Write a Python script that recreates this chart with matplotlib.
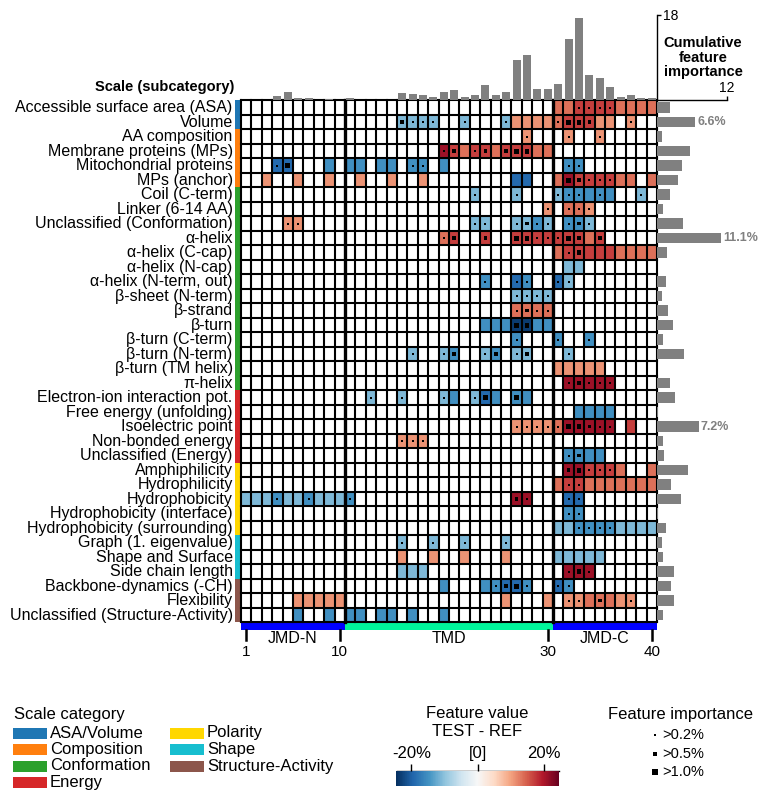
import numpy as np
import matplotlib
matplotlib.use('Agg')
import matplotlib.pyplot as plt
from matplotlib.patches import Rectangle
from matplotlib.colors import Normalize
from matplotlib.cm import ScalarMappable

plt.rcParams['font.family'] = ['Liberation Sans', 'DejaVu Sans']

W, H = 771, 802

# ---------------- data ----------------
scales = [
    "Accessible surface area (ASA)", "Volume", "AA composition", "Membrane proteins (MPs)",
    "Mitochondrial proteins", "MPs (anchor)", "Coil (C-term)", "Linker (6-14 AA)",
    "Unclassified (Conformation)", "α-helix", "α-helix (C-cap)", "α-helix (N-cap)",
    "α-helix (N-term, out)", "β-sheet (N-term)", "β-strand", "β-turn", "β-turn (C-term)",
    "β-turn (N-term)", "β-turn (TM helix)", "π-helix", "Electron-ion interaction pot.",
    "Free energy (unfolding)", "Isoelectric point", "Non-bonded energy", "Unclassified (Energy)",
    "Amphiphilicity", "Hydrophilicity", "Hydrophobicity", "Hydrophobicity (interface)",
    "Hydrophobicity (surrounding)", "Graph (1. eigenvalue)", "Shape and Surface",
    "Side chain length", "Backbone-dynamics (-CH)", "Flexibility", "Unclassified (Structure-Activity)",
]

category_names = ["ASA/Volume", "Composition", "Conformation", "Energy",
                  "Polarity", "Shape", "Structure-Activity"]
category_colors = ["#1f77b4", "#ff7f0e", "#2ca02c", "#d62728", "#ffd700", "#17becf", "#8c564b"]
category_counts = [2, 4, 14, 5, 5, 3, 3]

# feature value level per cell ('.' = none; 1-4 blue light->dark; a-d red light->dark)
level_values = {'1': -11, '2': -15, '3': -19, '4': -23.5,
                'a': 11, 'b': 13.5, 'c': 17, 'd': 21}
value_rows = [
    ".......... .......... .......... bbccccbbbb",
    ".......... .....1111. .1...1aaaa bcccaa.a..",
    ".......... .......... .......a.. .a..a.....",
    ".......... .........d cbccbcccbb ..........",
    "...33...2. 22.22.22.2 .......... .22.......",
    "..a..a..a. .a..a..a.. ......33.. bdccccbb.b",
    ".......... .......... ..1...1... 122222..1.",
    ".......... .......... .........a .bba......",
    "....aa.... .......... ..11..1121 .221......",
    ".......... .........b c..c..cccc cccbc.....",
    ".......... .......... .......... bcccccbbbb",
    ".......... .......... .......... .11.......",
    ".......... .......... ...2..32.. 31........",
    ".......... .......... ......1111 ..........",
    ".......... .......... ......bbbb ..........",
    ".......... .......... ...2224422 ..........",
    ".......... .......... ......2... 2..2......",
    ".......... ......1..1 2..12.11.. .1........",
    ".......... .......... .......... aaaaa.....",
    ".......... .......... .......... .ddddd....",
    ".......... ..1..1...1 2.132.22.. ..........",
    ".......... .......... .......... ..2222....",
    ".......... .......... ......aaaa bddddd.c..",
    ".......... .....aaa.. .......... ..........",
    ".......... .......... .......... .2222.....",
    ".......... .......... .......... .ddcccb..b",
    ".......... .......... .......... bccbbbbbbb",
    "1112112111 2......... ......dd.. .33.......",
    ".......... .......... .......... .22.......",
    ".......... .......... .......... 1122221111",
    ".......... .....1..1. .1...1.... ..........",
    ".......... .....a..a. .a...a.... 11111.....",
    ".......... .....111.. .......... .ddd......",
    ".......... .........2 ...22332.. 32........",
    ".....aaaaa .......... .....a...a .aabbbaa..",
    ".....2..2. 22.22.2..2 .......... ..........",
]

# feature importance per cell ('.' none, s >0.2%, m >0.5%, l >1.0%)
importance_sizes = {'s': 2.2, 'm': 6.0, 'l': 12.5}
importance_rows = [
    ".......... .......... .......... ..ssss....",
    ".......... .....msss. .s...s.... sllm...s..",
    ".......... .......... .......s.. .s..s.....",
    ".......... .........s m.sm.mll.. ..........",
    "...sl..... ......ss.. .......... .ss.......",
    ".......... .......... .......... .lmsss....",
    ".......... .......... ..s...s... sss.s...s.",
    ".......... .......... .........s .sss......",
    "....ss.... .......... ..ss..smss .sms......",
    ".......... .........s m..m..llss slm.m.....",
    ".......... .......... .......... .sl.......",
    ".......... .......... .......... ..........",
    ".......... .......... ...s..ss.. ss........",
    ".......... .......... ......ssss ..........",
    ".......... .......... ......smss ..........",
    ".......... .......... ......ll.. ..........",
    ".......... .......... ......s... s..s......",
    ".......... ......s..s m..sm.sm.. .s........",
    ".......... .......... .......... ..........",
    ".......... .......... .......... .smsss....",
    ".......... ..s..s...s ..sl..l... ..........",
    ".......... .......... .......... ..........",
    ".......... .......... ......ssss sllmss....",
    ".......... .....sss.. .......... ..........",
    ".......... .......... .......... .sm.......",
    ".......... .......... .......... .mlsss....",
    ".......... .......... .......... .ss.......",
    "...s..s... s......... ......ms.. .ss.......",
    ".......... .......... .......... .ss.......",
    ".......... .......... .......... ..ssss....",
    ".......... .....s..s. .s...s.... ..........",
    ".......... .......... .......... ..........",
    ".......... .......... .......... .sls......",
    ".......... .......... ....smls.. ss........",
    ".......... .......... .......... .ss.m..s..",
    ".......... .......... .......... ..........",
]

position_importance = [0, 0, 0, 0.85, 1.7, 0.5, 0.5, 0, 0.3, 0,
                       0.4, 0, 0, 0, 0, 1.5, 1.35, 1.1, 0.6, 1.77,
                       2.1, 0.7, 1.05, 3.2, 1.05, 1.77, 8.5, 9.5, 2.3, 2.3,
                       3.4, 12.9, 17.4, 5.3, 4.7, 2.8, 0.6, 1.05, 0.5, 0.5]

scale_importance = [2.2, 6.6, 0.8, 5.7, 4.3, 3.6, 2.2, 1.0, 4.5, 11.1,
                    1.7, 0, 1.5, 0.8, 1.85, 2.7, 1.0, 4.6, 0, 2.2,
                    3.1, 0.25, 7.2, 1.0, 1.15, 5.3, 2.4, 4.1, 0.2, 1.5,
                    0.8, 1.0, 2.9, 2.4, 2.9, 1.0]

regions = [("JMD-N", 0, 10, "#0000ff"), ("TMD", 10, 30, "#00f59b"), ("JMD-C", 30, 40, "#0000ff")]
position_ticks = [1, 10, 30, 40]

# ---------------- build matrices ----------------
n_rows, n_cols = len(scales), 40
vals = np.full((n_rows, n_cols), np.nan)
dots_x, dots_y, dots_s = [], [], []
for i, (vr, ir) in enumerate(zip(value_rows, importance_rows)):
    vr = vr.replace(" ", "")
    ir = ir.replace(" ", "")
    for j in range(n_cols):
        if vr[j] in level_values:
            vals[i, j] = level_values[vr[j]]
        if ir[j] in importance_sizes:
            dots_x.append(j + 0.5)
            dots_y.append(i + 0.5)
            dots_s.append(importance_sizes[ir[j]])

row_colors = []
for c, n in zip(category_colors, category_counts):
    row_colors += [c] * n


def fbox(l, t, r, b):
    return [l / W, 1 - b / H, (r - l) / W, (b - t) / H]


fig = plt.figure(figsize=(W / 100, H / 100), dpi=100)

ov = fig.add_axes([0, 0, 1, 1])
ov.set_xlim(0, W)
ov.set_ylim(H, 0)
ov.axis('off')

cmap = plt.get_cmap('RdBu_r')
norm = Normalize(-24.5, 24.5)

# ---------------- heatmap ----------------
HT, HB, HL, HR = 100.3, 622.3, 241, 657
ax = fig.add_axes(fbox(HL, HT, HR, HB))
ax.pcolormesh(np.arange(n_cols + 1), np.arange(n_rows + 1), np.ma.masked_invalid(vals),
              cmap=cmap, norm=norm)
ax.set_xlim(0, n_cols)
ax.set_ylim(n_rows, 0)
ax.axis('off')
for x in range(n_cols + 1):
    ax.axvline(x, color='k', lw=2.4 if x in (10, 30) else 1.5, clip_on=False, zorder=3)
for y in range(n_rows + 1):
    ax.axhline(y, color='k', lw=1.5, clip_on=False, zorder=3)
ax.scatter(dots_x, dots_y, s=dots_s, marker='s', c='k', linewidths=0, zorder=4)

# category strip + labels
for i, (lab, col) in enumerate(zip(scales, row_colors)):
    ax.add_patch(Rectangle((-0.6, i), 0.5, 1, facecolor=col, edgecolor='none', clip_on=False))
    ax.text(-0.8, i + 0.5, lab, ha='right', va='center', fontsize=11.5, clip_on=False)

# region bar
for name, a, b, col in regions:
    ax.add_patch(Rectangle((a, n_rows + 0.02), b - a, 0.52, facecolor=col, edgecolor='none',
                           clip_on=False, zorder=2))
    ax.text((a + b) / 2, n_rows + 1.1, name, ha='center', va='center', fontsize=11.5)
for p in position_ticks:
    ax.plot([p - 0.5, p - 0.5], [n_rows + 0.55, n_rows + 1.2], color='k', lw=1.8,
            clip_on=False)
    ax.text(p - 0.5, n_rows + 2.05, str(p), ha='center', va='center', fontsize=11)

# ---------------- top bars ----------------
axt = fig.add_axes(fbox(HL, 15, HR, HT))
axt.bar(np.arange(n_cols) + 0.5, position_importance, width=0.78, color='#808080')
axt.set_xlim(0, n_cols)
axt.set_ylim(0, 18)
for s in ['top', 'left', 'bottom']:
    axt.spines[s].set_visible(False)
axt.spines['right'].set_linewidth(1.0)
axt.set_xticks([])
axt.yaxis.tick_right()
axt.set_yticks([18])
axt.tick_params(axis='y', length=3, width=1, labelsize=10, pad=1)
axt.patch.set_alpha(0)

# ---------------- right bars ----------------
axr = fig.add_axes(fbox(HR, HT, 726.5, HB))
axr.barh(np.arange(n_rows) + 0.5, scale_importance, height=0.75, color='#808080')
axr.set_ylim(n_rows, 0)
axr.set_xlim(0, 12)
for s in ['bottom', 'left', 'right']:
    axr.spines[s].set_visible(False)
axr.spines['top'].set_linewidth(1.0)
axr.set_yticks([])
axr.xaxis.tick_top()
axr.set_xticks([12])
axr.tick_params(axis='x', length=3, width=1, labelsize=10, pad=1)
axr.patch.set_alpha(0)
for i, v in enumerate(scale_importance):
    if v >= 6:
        axr.text(v + 0.35, i + 0.5, f"{v:.1f}%", color='#808080', fontweight='bold',
                 fontsize=9, va='center', ha='left', clip_on=False)

# titles
ov.text(234, 87, "Scale (subcategory)", ha='right', va='center', fontweight='bold', fontsize=10.5)
for k, t in enumerate(["Cumulative", "feature", "importance"]):
    ov.text(703, 43 + 14.5 * k, t, ha='center', va='center', fontweight='bold', fontsize=10.5)

# ---------------- legends ----------------
ov.text(14, 715, "Scale category", ha='left', va='center', fontsize=12)
leg_y = [733, 749.5, 766, 782]
for k, (name, col) in enumerate(zip(category_names, category_colors)):
    if k < 4:
        x0, y0 = 13, leg_y[k]
    else:
        x0, y0 = 170, leg_y[k - 4]
    ov.add_patch(Rectangle((x0, y0 - 5.5), 34, 11, facecolor=col, edgecolor='none'))
    ov.text(x0 + 37, y0, name, ha='left', va='center', fontsize=12)

ov.text(477.5, 713, "Feature value", ha='center', va='center', fontsize=12)
ov.text(477.5, 731.5, "TEST - REF", ha='center', va='center', fontsize=12)
cax = fig.add_axes(fbox(396.5, 771, 559, 786))
cb = fig.colorbar(ScalarMappable(norm=norm, cmap=cmap), cax=cax, orientation='horizontal')
cb.set_ticks([-20, 0, 20])
cb.set_ticklabels(['-20%', '[0]', '20%'])
cax.xaxis.set_ticks_position('top')
cax.tick_params(length=5, width=1, labelsize=12, pad=2)
cb.outline.set_visible(False)
ov.plot([396.5, 559], [771, 771], color='k', lw=1)

ov.text(681, 714, "Feature importance", ha='center', va='center', fontsize=12)
imp_labels = [(">0.2%", 's'), (">0.5%", 'm'), (">1.0%", 'l')]
for k, (lab, key) in enumerate(imp_labels):
    yy = 735 + 18.5 * k
    ov.scatter([655], [yy], s=importance_sizes[key] * 1.5, marker='s', c='k', linewidths=0)
    ov.text(662, yy, lab, ha='left', va='center', fontsize=10.5)

fig.savefig("out.png", dpi=100)
